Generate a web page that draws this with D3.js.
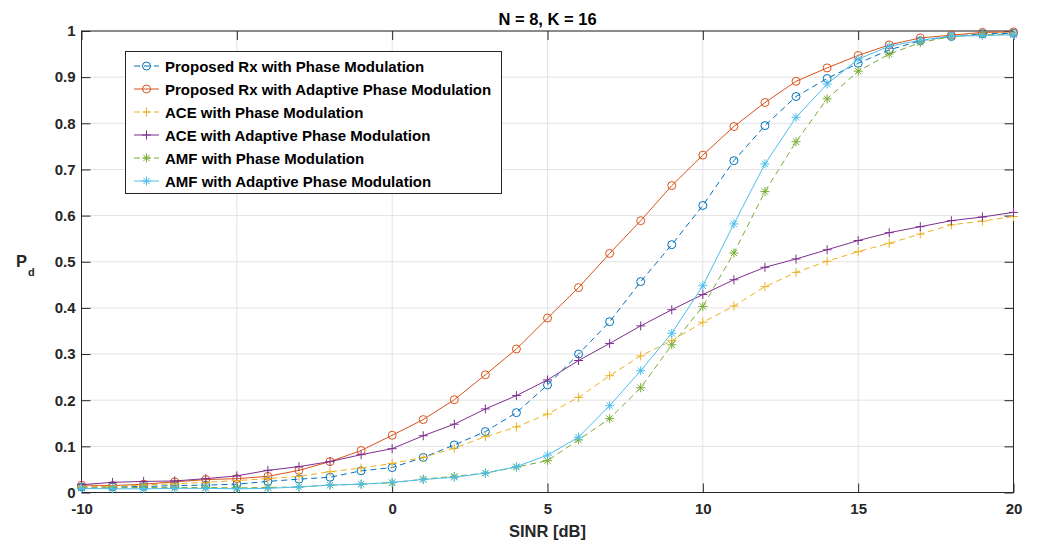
<!DOCTYPE html>
<html>
<head>
<meta charset="utf-8">
<script src="https://cdn.jsdelivr.net/npm/d3@7"></script>
<style>
  body { margin: 0; background: #fff; }
  svg { display: block; font-family: "Liberation Sans", Arial, sans-serif; }
</style>
</head>
<body>
<svg id="chart" width="1040" height="542"></svg>
<script>
// SINR axis points
const sinr = d3.range(-10, 21);

// Pd per curve
const propPhase = [0.012, 0.012, 0.013, 0.015, 0.016, 0.018, 0.024, 0.029, 0.033, 0.047, 0.054,
  0.076, 0.103, 0.132, 0.173, 0.233, 0.300, 0.370, 0.457, 0.537, 0.622,
  0.719, 0.795, 0.858, 0.897, 0.930, 0.959, 0.979, 0.988, 0.994, 0.995];
const propAdaptive = [0.016, 0.015, 0.018, 0.023, 0.028, 0.030, 0.035, 0.048, 0.067, 0.091, 0.124,
  0.158, 0.201, 0.255, 0.311, 0.378, 0.444, 0.518, 0.589, 0.665, 0.731,
  0.793, 0.845, 0.891, 0.920, 0.947, 0.970, 0.985, 0.991, 0.997, 0.998];
const acePhase = [0.012, 0.014, 0.016, 0.019, 0.022, 0.026, 0.030, 0.035, 0.045, 0.053, 0.063,
  0.076, 0.096, 0.121, 0.142, 0.170, 0.206, 0.253, 0.296, 0.329, 0.369,
  0.404, 0.446, 0.477, 0.501, 0.522, 0.540, 0.560, 0.580, 0.588, 0.598];
const aceAdaptive = [0.017, 0.022, 0.024, 0.025, 0.030, 0.036, 0.048, 0.056, 0.067, 0.082, 0.095,
  0.123, 0.148, 0.181, 0.210, 0.244, 0.286, 0.323, 0.361, 0.396, 0.429,
  0.461, 0.488, 0.506, 0.526, 0.546, 0.563, 0.576, 0.589, 0.597, 0.607];
const amfPhase = [0.010, 0.010, 0.011, 0.011, 0.011, 0.010, 0.011, 0.012, 0.016, 0.018, 0.021,
  0.029, 0.035, 0.042, 0.055, 0.069, 0.114, 0.160, 0.227, 0.320, 0.403,
  0.519, 0.652, 0.760, 0.853, 0.913, 0.950, 0.975, 0.988, 0.992, 0.993];
const amfAdaptive = [0.009, 0.008, 0.008, 0.009, 0.009, 0.008, 0.009, 0.012, 0.016, 0.018, 0.022,
  0.028, 0.033, 0.042, 0.056, 0.081, 0.120, 0.188, 0.264, 0.345, 0.448,
  0.582, 0.712, 0.813, 0.885, 0.939, 0.967, 0.980, 0.989, 0.990, 0.992];

const seriesNames = [
  "Proposed Rx with Phase Modulation",
  "Proposed Rx with Adaptive Phase Modulation",
  "ACE with Phase Modulation",
  "ACE with Adaptive Phase Modulation",
  "AMF with Phase Modulation",
  "AMF with Adaptive Phase Modulation"
];
const xTicks = [-10, -5, 0, 5, 10, 15, 20];
const yTicks = d3.range(0, 11).map(i => i / 10);

const series = [
  { name: seriesNames[0], values: propPhase,    color: "#0072BD", dash: true,  marker: "circle" },
  { name: seriesNames[1], values: propAdaptive, color: "#D95319", dash: false, marker: "circle" },
  { name: seriesNames[2], values: acePhase,     color: "#EDB120", dash: true,  marker: "plus" },
  { name: seriesNames[3], values: aceAdaptive,  color: "#7E2F8E", dash: false, marker: "plus" },
  { name: seriesNames[4], values: amfPhase,     color: "#77AC30", dash: true,  marker: "star" },
  { name: seriesNames[5], values: amfAdaptive,  color: "#4DBEEE", dash: false, marker: "star" }
];

const svg = d3.select("#chart");
const pLeft = 81.5, pRight = 1013.5, pTop = 31, pBottom = 492.5;

const x = d3.scaleLinear().domain([-10, 20]).range([pLeft, pRight]);
const y = d3.scaleLinear().domain([0, 1]).range([pBottom, pTop]);

// grid
const grid = svg.append("g").attr("stroke", "#e3e3e3").attr("stroke-width", 1);
xTicks.forEach(t => grid.append("line")
  .attr("x1", x(t)).attr("x2", x(t)).attr("y1", pTop).attr("y2", pBottom));
yTicks.forEach(t => grid.append("line")
  .attr("x1", pLeft).attr("x2", pRight).attr("y1", y(t)).attr("y2", y(t)));

// axes (MATLAB box, ticks inside on all four sides)
const tickLen = 9;
const axisColor = "#262626";
const fmtY = d => d === 0 ? "0" : d === 1 ? "1" : d3.format(".1f")(d);
const fmtX = d => String(d); // plain hyphen minus like MATLAB

svg.append("g").attr("transform", `translate(0,${pBottom})`)
  .call(d3.axisBottom(x).tickValues(xTicks).tickSizeInner(-tickLen).tickSizeOuter(0).tickPadding(11).tickFormat(fmtX))
  .call(g => g.select(".domain").remove());
svg.append("g").attr("transform", `translate(0,${pTop})`)
  .call(d3.axisTop(x).tickValues(xTicks).tickSizeInner(-tickLen).tickSizeOuter(0).tickFormat(""))
  .call(g => g.select(".domain").remove());
svg.append("g").attr("transform", `translate(${pLeft},0)`)
  .call(d3.axisLeft(y).tickValues(yTicks).tickSizeInner(-tickLen).tickSizeOuter(0).tickPadding(6).tickFormat(fmtY))
  .call(g => g.select(".domain").remove());
svg.append("g").attr("transform", `translate(${pRight},0)`)
  .call(d3.axisRight(y).tickValues(yTicks).tickSizeInner(-tickLen).tickSizeOuter(0).tickFormat(""))
  .call(g => g.select(".domain").remove());

svg.selectAll(".tick line").attr("stroke", axisColor);
svg.selectAll(".tick text")
  .attr("fill", "#262626")
  .style("font-size", "15px")
  .style("font-weight", "bold")
  .style("font-family", "Liberation Sans, Arial, sans-serif");

svg.append("rect")
  .attr("x", pLeft).attr("y", pTop)
  .attr("width", pRight - pLeft).attr("height", pBottom - pTop)
  .attr("fill", "none").attr("stroke", axisColor).attr("stroke-width", 1);

// markers
function drawMarker(g, type, cx, cy, color) {
  if (type === "circle") {
    g.append("circle").attr("cx", cx).attr("cy", cy).attr("r", 4)
      .attr("fill", "none").attr("stroke", color).attr("stroke-width", 1);
  } else if (type === "plus") {
    g.append("path").attr("d", `M${cx - 4.5},${cy}H${cx + 4.5}M${cx},${cy - 4.5}V${cy + 4.5}`)
      .attr("stroke", color).attr("stroke-width", 1).attr("fill", "none");
  } else {
    const r = 4.5, d = r * 0.7;
    g.append("path")
      .attr("d", `M${cx - r},${cy}H${cx + r}M${cx},${cy - r}V${cy + r}` +
        `M${cx - d},${cy - d}L${cx + d},${cy + d}M${cx - d},${cy + d}L${cx + d},${cy - d}`)
      .attr("stroke", color).attr("stroke-width", 1).attr("fill", "none");
  }
}

const line = d3.line().x(d => x(d[0])).y(d => y(d[1]));
const plot = svg.append("g");
series.forEach(s => {
  const pts = sinr.map((v, i) => [v, s.values[i]]);
  plot.append("path")
    .datum(pts)
    .attr("d", line)
    .attr("fill", "none")
    .attr("stroke", s.color)
    .attr("stroke-width", 1)
    .attr("stroke-dasharray", s.dash ? "6,4" : null);
  const mg = plot.append("g");
  pts.forEach(p => drawMarker(mg, s.marker, x(p[0]), y(p[1]), s.color));
});

// title and labels
svg.append("text")
  .attr("x", (pLeft + pRight) / 2).attr("y", 25)
  .attr("text-anchor", "middle")
  .style("font-size", "16.5px").style("font-weight", "bold")
  .attr("fill", "#000")
  .text("N = 8, K = 16");

svg.append("text")
  .attr("x", (pLeft + pRight) / 2).attr("y", 536.5)
  .attr("text-anchor", "middle")
  .style("font-size", "16.5px").style("font-weight", "bold")
  .attr("fill", "#262626")
  .text("SINR [dB]");

const yl = svg.append("text")
  .attr("x", 16).attr("y", 267)
  .style("font-size", "16.5px").style("font-weight", "bold")
  .attr("fill", "#262626");
yl.append("tspan").text("P");
yl.append("tspan").attr("dx", 1).attr("dy", 8.5).style("font-size", "11px").text("d");

// legend
const lg = svg.append("g");
const lgX = 125.5, lgY = 51.5, lgW = 376, lgH = 142;
lg.append("rect")
  .attr("x", lgX).attr("y", lgY).attr("width", lgW).attr("height", lgH)
  .attr("fill", "#fff").attr("stroke", axisColor).attr("stroke-width", 1);
series.forEach((s, i) => {
  const cy = 66 + i * 23;
  lg.append("line")
    .attr("x1", 134).attr("x2", 159).attr("y1", cy).attr("y2", cy)
    .attr("stroke", s.color).attr("stroke-width", 1)
    .attr("stroke-dasharray", s.dash ? "6,4" : null);
  drawMarker(lg, s.marker, 146.5, cy, s.color);
  lg.append("text")
    .attr("x", 165).attr("y", cy + 5.5)
    .style("font-size", "15px").style("font-weight", "bold")
    .attr("fill", "#000")
    .text(s.name);
});
</script>
</body>
</html>
